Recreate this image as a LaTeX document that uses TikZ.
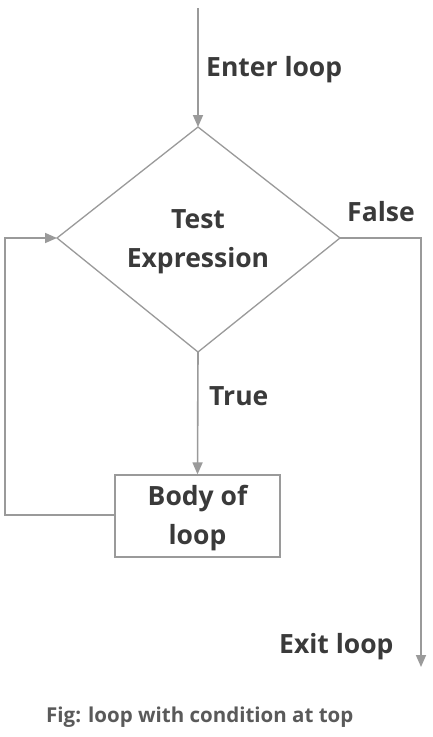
\documentclass[tikz,border=0pt]{standalone}
\usepackage{fontspec}
\setmainfont{Open Sans}
\usetikzlibrary{arrows.meta,shapes.geometric}
\definecolor{linegray}{HTML}{9A9A9A}
\definecolor{textgray}{HTML}{3A3A3A}
\definecolor{capgray}{HTML}{5A5A5A}
\begin{document}
\begin{tikzpicture}[x=1pt,y=-1pt,
  conn/.style={draw=linegray,line width=1.6pt},
  arr/.style={conn,-{Triangle[length=12pt,width=10pt]}},
  lbl/.style={text=textgray,font=\fontsize{26.5}{29}\selectfont\bfseries,inner sep=0pt},
  boxlbl/.style={text=textgray,font=\fontsize{26.5}{39}\selectfont\bfseries,align=center,inner sep=0pt}]
\useasboundingbox[fill=white] (0,0) rectangle (432,737);
% diamond corners
\coordinate (dt) at (198,127);
\coordinate (dl) at (57,238);
\coordinate (dr) at (340,238);
\coordinate (db) at (198,352);
\draw[draw=linegray,line width=1.3pt] (dt) -- (dr) -- (db) -- (dl) -- cycle;
\node[boxlbl] (test) at (198,242) {Test\\Expression};
% body box
\node[draw=linegray,line width=1.3pt,minimum width=165pt,minimum height=82pt,inner sep=0pt] (body) at (197.5,516) {};
\node[boxlbl] (bodytxt) at (197.5,518) {Body of\\loop};
\coordinate (start) at (198,8);
\coordinate (lb) at (5,515);
\coordinate (lt) at (5,238);
\coordinate (fr) at (421,238);
\coordinate (fe) at (421,667);
\draw[arr] (start) -- (dt);
\draw[arr] (db) -- (body.north);
\draw[arr] (body.west |- lb) -- (lb) -- (lt) -- (dl);
\draw[arr] (dr) -- (fr) -- (fe);
\node[lbl,anchor=west] (enter) at (206,70) {Enter loop};
\node[lbl,anchor=west] (false) at (347,212) {False};
\node[lbl,anchor=west] (true) at (209,396) {True};
\node[lbl,anchor=west] (exit) at (279,647) {Exit loop};
\node[text=capgray,font=\fontsize{20.5}{24}\selectfont\bfseries,anchor=west,inner sep=0pt] (cap) at (46,717) {Fig: loop with condition at top};
\end{tikzpicture}
\end{document}
